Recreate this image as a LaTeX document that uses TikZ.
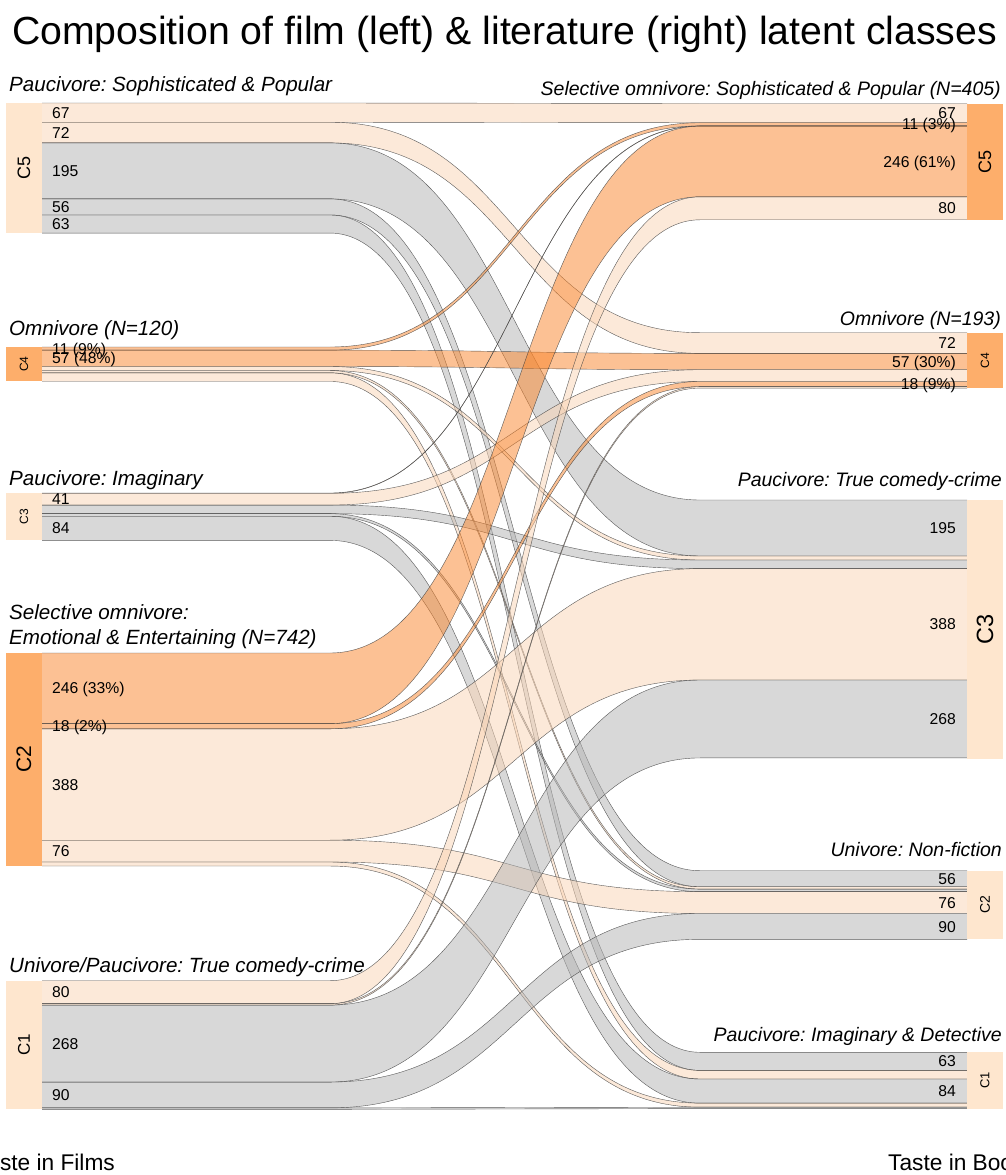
\documentclass[tikz,border=0pt]{standalone}
\usepackage{fontspec}
\setmainfont{Liberation Sans}
\frenchspacing
\definecolor{cGrey}{HTML}{B3B3B3}
\definecolor{cPeach}{HTML}{FBD5B5}
\definecolor{cOrange}{HTML}{FB852A}
\definecolor{cBarPeach}{HTML}{FEE6CE}
\definecolor{cBarOrange}{HTML}{FDAE6B}
\newcommand{\fNum}{\fontsize{15.7}{18}\selectfont}
\newcommand{\fGroupL}{\fontsize{20.6}{24}\selectfont\itshape}
\newcommand{\fGroupR}{\fontsize{19.5}{24}\selectfont\itshape}
\newcommand{\fTitle}{\fontsize{39.2}{44}\selectfont}
\newcommand{\fAxis}{\fontsize{22.7}{26}\selectfont}
\newcommand{\flowband}[5]{%
  \fill[#5] (42,#1) -- (330,#1) .. controls (515,#1) and (515,#3) .. (700,#3) -- (967,#3) -- (967,#4) -- (700,#4) .. controls (515,#4) and (515,#2) .. (330,#2) -- (42,#2) -- cycle;
  \draw[edge] (42,#1) -- (330,#1) .. controls (515,#1) and (515,#3) .. (700,#3) -- (967,#3);
  \draw[edge] (42,#2) -- (330,#2) .. controls (515,#2) and (515,#4) .. (700,#4) -- (967,#4);
}
\tikzset{
  edge/.style={draw=black!75, line width=0.4pt, draw opacity=0.85},
  fgrey/.style={fill=cGrey, fill opacity=0.5},
  fpeach/.style={fill=cPeach, fill opacity=0.5},
  forange/.style={fill=cOrange, fill opacity=0.5},
  barP/.style={fill=cBarPeach, draw=none},
  barO/.style={fill=cBarOrange, draw=none},
  numL/.style={anchor=base west, inner sep=0pt, font=\fNum, yshift=-5.6pt},
  numR/.style={anchor=base east, inner sep=0pt, font=\fNum, yshift=-5.6pt},
  grpL/.style={anchor=base west, inner sep=0pt, font=\fGroupL},
  grpR/.style={anchor=base east, inner sep=0pt, font=\fGroupR},
  barlab/.style={rotate=90, inner sep=0pt, anchor=center}
}
\begin{document}
\begin{tikzpicture}[x=1pt,y=-1pt]
\useasboundingbox (0,0) rectangle (1005,1175);
\fill[white] (0,0) rectangle (1005,1175);
% flows from film C5
\flowband{103.00}{122.24}{103.50}{122.74}{fpeach}
\flowband{122.24}{142.91}{332.70}{353.37}{fpeach}
\flowband{142.91}{198.89}{500.00}{555.98}{fgrey}
\flowband{198.89}{214.97}{870.70}{886.78}{fgrey}
\flowband{214.97}{233.06}{1052.30}{1070.39}{fgrey}
% flows from film C4
\flowband{347.00}{350.16}{122.74}{125.90}{forange}
\flowband{350.16}{366.52}{353.37}{369.73}{forange}
\flowband{366.52}{370.54}{555.98}{560.00}{fpeach}
\flowband{370.54}{372.84}{886.78}{889.08}{fpeach}
\flowband{372.84}{381.45}{1070.39}{1079.00}{fpeach}
% flows from film C3
\flowband{493.00}{493.29}{125.90}{126.19}{fpeach}
\flowband{493.29}{505.06}{369.73}{381.50}{fpeach}
\flowband{505.06}{513.67}{560.00}{568.61}{fgrey}
\flowband{513.67}{516.25}{889.08}{891.66}{fgrey}
\flowband{516.25}{540.37}{1079.00}{1103.12}{fgrey}
% flows from film C2
\flowband{653.00}{723.63}{126.19}{196.82}{forange}
\flowband{723.63}{728.80}{381.50}{386.67}{forange}
\flowband{728.80}{840.19}{568.61}{680.00}{fpeach}
\flowband{840.19}{862.01}{891.66}{913.48}{fpeach}
\flowband{862.01}{866.03}{1103.12}{1107.14}{fpeach}
% flows from film C1
\flowband{980.70}{1003.67}{196.82}{219.79}{fpeach}
\flowband{1003.67}{1005.11}{386.67}{388.11}{fpeach}
\flowband{1005.11}{1082.05}{680.00}{757.94}{fgrey}
\flowband{1082.05}{1107.89}{913.48}{939.32}{fgrey}
\flowband{1107.89}{1109.33}{1107.14}{1108.58}{fgrey}
% bars, films
\path[barP] (6,103.00) rectangle (42,233.06);
\path[barO] (6,347.00) rectangle (42,381.45);
\path[barP] (6,493.00) rectangle (42,540.37);
\path[barO] (6,653.00) rectangle (42,866.03);
\path[barP] (6,980.70) rectangle (42,1109.33);
% bars, literature
\path[barO] (967,103.50) rectangle (1003,219.79);
\path[barO] (967,332.70) rectangle (1003,388.11);
\path[barP] (967,500.00) rectangle (1003,758.50);
\path[barP] (967,870.70) rectangle (1003,939.32);
\path[barP] (967,1052.30) rectangle (1003,1108.58);
% bar labels
\node[barlab, font=\fontsize{18}{20}\selectfont] (fC5) at (24,168.0) {C5};
\node[barlab, font=\fontsize{12}{14}\selectfont] (fC4) at (24,364.2) {C4};
\node[barlab, font=\fontsize{12}{14}\selectfont] (fC3) at (24,516.7) {C3};
\node[barlab, font=\fontsize{21}{24}\selectfont] (fC2) at (24,759.5) {C2};
\node[barlab, font=\fontsize{17}{20}\selectfont] (fC1) at (24,1045.0) {C1};
\node[barlab, font=\fontsize{18}{20}\selectfont] (lC5) at (985,161.6) {C5};
\node[barlab, font=\fontsize{12}{14}\selectfont] (lC4) at (985,360.4) {C4};
\node[barlab, font=\fontsize{23.5}{26}\selectfont] (lC3) at (985,629.5) {C3};
\node[barlab, font=\fontsize{14}{16}\selectfont] (lC2) at (985,905.0) {C2};
\node[barlab, font=\fontsize{13}{15}\selectfont] (lC1) at (985,1080.4) {C1};
% left numbers
\node[numL] (n1) at (52,112.6) {67};
\node[numL] (n2) at (52,132.6) {72};
\node[numL] (n3) at (52,170.9) {195};
\node[numL] (n4) at (52,206.9) {56};
\node[numL] (n5) at (52,224.0) {63};
\node[numL] (n6) at (52,348.6) {11 (9\%)};
\node[numL] (n7) at (52,358.3) {57 (48\%)};
\node[numL] (n8) at (52,499.2) {41};
\node[numL] (n9) at (52,528.3) {84};
\node[numL] (n10) at (52,688.3) {246 (33\%)};
\node[numL] (n11) at (52,726.2) {18 (2\%)};
\node[numL] (n12) at (52,784.5) {388};
\node[numL] (n13) at (52,851.1) {76};
\node[numL] (n14) at (52,992.2) {80};
\node[numL] (n15) at (52,1043.6) {268};
\node[numL] (n16) at (52,1095.0) {90};
% right numbers
\node[numR] (m1) at (956,112.6) {67};
\node[numR] (m2) at (956,124.3) {11 (3\%)};
\node[numR] (m3) at (956,161.5) {246 (61\%)};
\node[numR] (m4) at (956,208.3) {80};
\node[numR] (m5) at (956,343.0) {72};
\node[numR] (m6) at (956,361.5) {57 (30\%)};
\node[numR] (m7) at (956,384.1) {18 (9\%)};
\node[numR] (m8) at (956,528.0) {195};
\node[numR] (m9) at (956,624.3) {388};
\node[numR] (m10) at (956,719.0) {268};
\node[numR] (m11) at (956,878.7) {56};
\node[numR] (m12) at (956,902.6) {76};
\node[numR] (m13) at (956,926.4) {90};
\node[numR] (m14) at (956,1061.3) {63};
\node[numR] (m15) at (956,1091.1) {84};
% group labels
\node[grpL] (g1) at (9,91) {Paucivore: Sophisticated \& Popular};
\node[grpL] (g2) at (9,335) {Omnivore (N=120)};
\node[grpL] (g3) at (9,485) {Paucivore: Imaginary};
\node[grpL] (g4) at (9,619) {Selective omnivore:};
\node[grpL] (g5) at (9,644) {Emotional \& Entertaining (N=742)};
\node[grpL] (g6) at (9,972.7) {Univore/Paucivore: True comedy-crime};
\node[grpR] (h1) at (1001,95) {Selective omnivore: Sophisticated \& Popular (N=405)};
\node[grpR] (h2) at (1001,325) {Omnivore (N=193)};
\node[grpR] (h3) at (1002,486.7) {Paucivore: True comedy-crime};
\node[grpR] (h4) at (1002,856.7) {Univore: Non-fiction};
\node[grpR] (h5) at (1002,1041.7) {Paucivore: Imaginary \& Detective};
% title and axes
\node[anchor=base, inner sep=0pt, font=\fTitle] (title) at (504.5,44) {Composition of film (left) \& literature (right) latent classes};
\node[anchor=base east, inner sep=0pt, font=\fAxis] (axL) at (115,1170) {Taste in Films};
\node[anchor=base west, inner sep=0pt, font=\fAxis] (axR) at (888,1170) {Taste in Books};
\end{tikzpicture}
\end{document}
